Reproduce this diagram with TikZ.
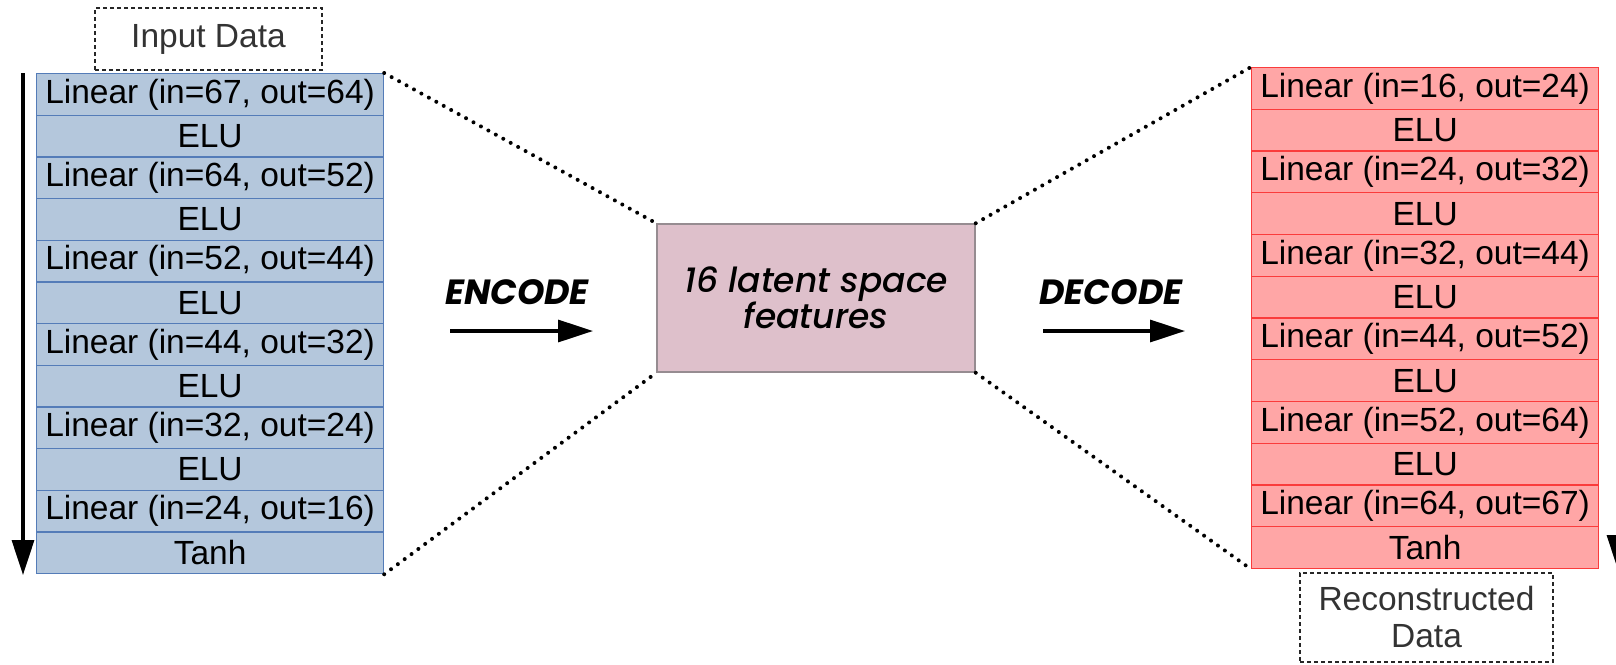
\documentclass[tikz,border=0pt]{standalone}
\usepackage{fontspec}
\setmainfont{Liberation Sans}
\newfontfamily\popfont{Poppins}
\newfontfamily\popmed{Poppins Medium Italic}
\usetikzlibrary{arrows.meta}
\definecolor{encfill}{RGB}{180,199,220}
\definecolor{encline}{RGB}{84,124,184}
\definecolor{decfill}{RGB}{255,166,166}
\definecolor{decline}{RGB}{250,60,60}
\definecolor{latfill}{RGB}{222,192,203}
\definecolor{latline}{RGB}{150,140,145}
\begin{document}
\begin{tikzpicture}[x=1pt,y=-1pt,
  layer/.style={rectangle, inner sep=0pt, minimum width=347pt, minimum height=41.7pt,
    anchor=north west, font=\fontsize{33.5}{38}\selectfont, line width=1.2pt},
  enc/.style={layer, fill=encfill, draw=encline},
  dec/.style={layer, fill=decfill, draw=decline},
  databox/.style={draw=black!85, dash pattern=on 4pt off 3pt, line width=1.5pt,
    inner sep=0pt, font=\fontsize{33.5}{37}\selectfont, text=black!80, align=center},
  dots/.style={line width=4pt, line cap=round, dash pattern=on 0pt off 8.5pt},
  flow/.style={line width=3.3pt, -{Triangle[length=35pt,width=22pt]}},
  stage/.style={font=\popfont\bfseries\itshape\fontsize{35}{38}\selectfont},
  latent/.style={rectangle, fill=latfill, draw=latline, line width=1.5pt,
    minimum width=318pt, minimum height=148pt, align=center,
    font=\popmed\fontsize{34.5}{39}\selectfont}
]
\useasboundingbox (0,0) rectangle (1616,664);
\clip (0,0) rectangle (1616,664);

% encoder stack
\foreach \t [count=\i] in {{Linear (in=67, out=64)},ELU,{Linear (in=64, out=52)},ELU,
    {Linear (in=52, out=44)},ELU,{Linear (in=44, out=32)},ELU,
    {Linear (in=32, out=24)},ELU,{Linear (in=24, out=16)},Tanh}
  \node[enc, name=e\i] at (36,{73+(\i-1)*41.67}) {\t};

% decoder stack
\foreach \t [count=\i] in {{Linear (in=16, out=24)},ELU,{Linear (in=24, out=32)},ELU,
    {Linear (in=32, out=44)},ELU,{Linear (in=44, out=52)},ELU,
    {Linear (in=52, out=64)},ELU,{Linear (in=64, out=67)},Tanh}
  \node[dec, name=d\i] at (1251,{67+(\i-1)*41.75}) {\t};

% latent representation
\node[latent] (lat) at (816,298) {16 latent space\\[-3pt]features};

% input / output labels
\node[databox, minimum width=227pt, minimum height=62pt] (in) at (208.5,39) {Input Data};
\node[databox, minimum width=253pt, minimum height=89pt] (out) at (1426.5,617.5)
  {Reconstructed\\Data};

% funnel outlines
\draw[dots] (e1.north east) -- (lat.north west);
\draw[dots] (e12.south east) -- (lat.south west);
\draw[dots] (lat.north east) -- (d1.north west);
\draw[dots] (lat.south east) -- (d12.south west);

% stage arrows
\node[stage] (enclab) at (517,292) {ENCODE};
\node[stage] (declab) at (1111,292) {DECODE};
\coordinate (ea) at (450,331);
\coordinate (eb) at (593,331);
\coordinate (da) at (1043,331);
\coordinate (db) at (1185,331);
\draw[flow] (ea) -- (eb);
\draw[flow] (da) -- (db);

% data flow direction
\coordinate (ls) at (23,73);
\coordinate (le) at (23,575);
\coordinate (rs) at (1618,67);
\coordinate (re) at (1618,570);
\draw[flow] (ls) -- (le);
\draw[flow] (rs) -- (re);
\end{tikzpicture}
\end{document}
